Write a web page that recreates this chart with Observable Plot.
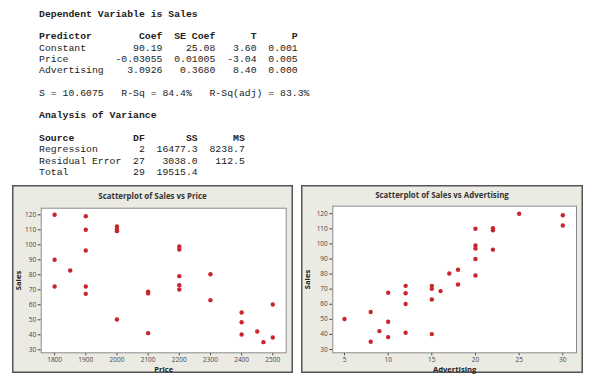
<!DOCTYPE html>
<html><head><meta charset="utf-8">
<script src="https://cdn.jsdelivr.net/npm/d3@7"></script>
<script src="https://cdn.jsdelivr.net/npm/@observablehq/plot@0.6"></script>
<style>
body{margin:0;width:600px;height:385px;background:#fff;position:relative;overflow:hidden;font-family:"Open Sans",sans-serif}
pre#out{position:absolute;left:39px;top:8.75px;margin:0;font-family:"Liberation Mono",monospace;font-size:9.8px;line-height:11.3px;color:#222}
pre#out b{font-weight:bold}
.panel{position:absolute;background:#ecebe3;box-shadow:inset 0 0 0 1.5px #555}
.ptitle{position:absolute;left:0;right:0;text-align:center;font-weight:bold;font-size:7.9px;color:#333;line-height:1}
.panel svg{position:absolute;left:0;top:0}
.panel svg g[aria-label="x-axis label"] text,.panel svg g[aria-label="y-axis label"] text{font-weight:bold;font-size:7.6px;fill:#222}
</style></head><body>
<pre id="out"></pre>
<div id="p1" class="panel" style="left:12px;top:185px;width:281px;height:188px"><div class="ptitle" style="top:8px">Scatterplot of Sales vs Price</div></div>
<div id="p2" class="panel" style="left:301px;top:185px;width:282px;height:188px"><div class="ptitle" style="top:7px">Scatterplot of Sales vs Advertising</div></div>
<script>
// Regression output
const dependent = "Sales";
const predictors = ["Constant", "Price", "Advertising"];
const coef = ["90.19", "-0.03055", "3.0926"];
const seCoef = ["25.08", "0.01005", "0.3680"];
const tStat = ["3.60", "-3.04", "8.40"];
const pVal = ["0.001", "0.005", "0.000"];
const sValue = "10.6075", rSq = "84.4%", rSqAdj = "83.3%";
const sources = ["Regression", "Residual Error", "Total"];
const dfs = ["2", "27", "29"];
const ssVals = ["16477.3", "3038.0", "19515.4"];
const msVals = ["8238.7", "112.5", ""];

// Observations
const price = [1800,1900,2000,1900,2000,2000,2200,2200,1900,1800,1850,2300,2200,2200,1800,1900,2200,2100,2100,1900,2300,2500,2400,2000,2400,2450,2100,2400,2500,2470];
const advertising = [25,30,30,20,22,22,20,20,22,20,18,17,20,18,15,12,15,16,10,12,15,12,8,5,10,9,12,15,10,8];
const sales = [120,119,112.2,110,110.4,109.1,98.9,96.9,96.2,90,82.9,80.4,79.1,73.1,72.2,72.2,70.2,68.7,67.6,67.3,63.1,60.2,54.9,50.2,48.4,42.2,41.1,40.2,38.2,35.1];
const salesTicks = [30,40,50,60,70,80,90,100,110,120];
const priceTicks = [1800,1900,2000,2100,2200,2300,2400,2500];
const advTicks = [5,10,15,20,25,30];

const lines = [];
lines.push(`<b>Dependent Variable is ${dependent}</b>`);
lines.push("");
lines.push("<b>" + "Predictor".padEnd(13) + "Coef".padStart(8) + "SE Coef".padStart(9) + "T".padStart(7) + "P".padStart(7) + "</b>");
predictors.forEach((p, i) => lines.push(p.padEnd(13) + coef[i].padStart(8) + seCoef[i].padStart(9) + tStat[i].padStart(7) + pVal[i].padStart(7)));
lines.push("");
lines.push(`S = ${sValue}   R-Sq = ${rSq}   R-Sq(adj) = ${rSqAdj}`);
lines.push("");
lines.push("<b>Analysis of Variance</b>");
lines.push("");
lines.push("<b>" + "Source".padEnd(14) + "DF".padStart(4) + "SS".padStart(9) + "MS".padStart(8) + "</b>");
sources.forEach((s, i) => lines.push(s.padEnd(14) + dfs[i].padStart(4) + ssVals[i].padStart(9) + (msVals[i] ? msVals[i].padStart(8) : "")));
document.getElementById("out").innerHTML = lines.join("\n");

const data = sales.map((s, i) => ({sales: s, price: price[i], advertising: advertising[i]}));

function panel(id, xKey, xLabel, xTicks, xDomain, yDomain, W, H, m, yLabOff, xLabOff) {
  const chart = Plot.plot({
    width: W, height: H,
    marginLeft: m[0], marginRight: m[1], marginTop: m[2], marginBottom: m[3],
    style: {background: "transparent", fontFamily: "'Open Sans', sans-serif", fontSize: "6.5px", color: "#444", overflow: "visible"},
    x: {domain: xDomain, ticks: xTicks, tickSize: 3, tickPadding: 1.5, tickFormat: d => String(d), label: xLabel, labelAnchor: "center", labelArrow: "none", labelOffset: xLabOff},
    y: {domain: yDomain, ticks: salesTicks, tickSize: 3, tickPadding: 2, tickFormat: d => String(d), label: "Sales", labelAnchor: "center", labelArrow: "none", labelOffset: yLabOff},
    marks: [
      Plot.frame({fill: "white", stroke: "#8a8a8a"}),
      Plot.dot(data, {x: xKey, y: "sales", r: 2.2, fill: "#c8262c", stroke: "none"})
    ]
  });
  document.getElementById(id).appendChild(chart);
}
panel("p1", "price", "Price", priceTicks, [1757, 2543], [28, 124.4], 281, 188, [28.7, 7.3, 22.7, 20.7], 26, 19.5);
panel("p2", "advertising", "Advertising", advTicks, [3.66, 31.57], [27.8, 125], 282, 188, [31.3, 7, 20.7, 20.7], 28, 19.5);
</script>
</body></html>
